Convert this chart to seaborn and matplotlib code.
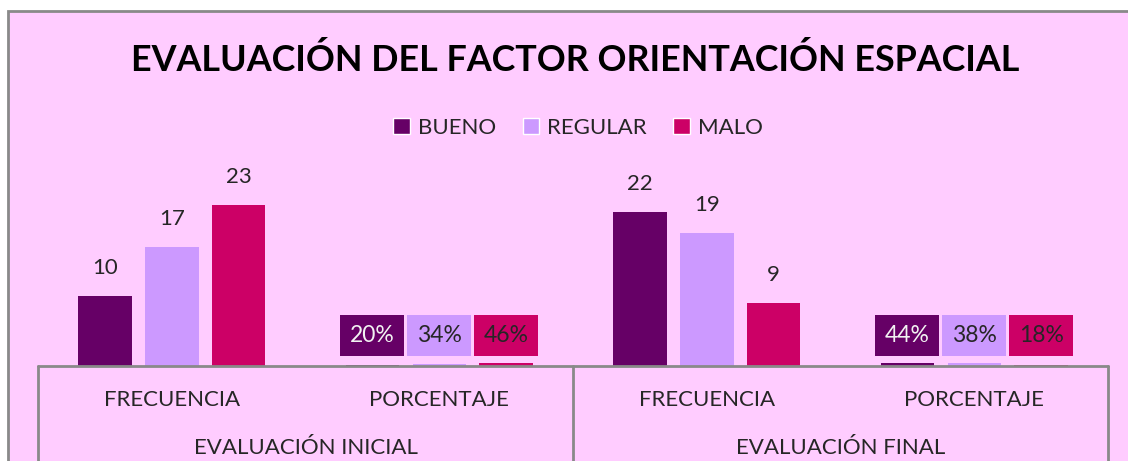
import pandas as pd
import seaborn as sns
import matplotlib.pyplot as plt
from matplotlib.patches import Rectangle
from matplotlib.lines import Line2D

# data
keys = ['INI_FREC', 'INI_PORC', 'FIN_FREC', 'FIN_PORC']
tick_labels = ['FRECUENCIA', 'PORCENTAJE', 'FRECUENCIA', 'PORCENTAJE']
group_labels = ['EVALUACIÓN INICIAL', 'EVALUACIÓN FINAL']
series = ['BUENO', 'REGULAR', 'MALO']
bueno = [10, 0.20, 22, 0.44]
regular = [17, 0.34, 19, 0.38]
malo = [23, 0.46, 9, 0.18]
colors = ['#660066', '#CC99FF', '#CC0066']

df = pd.DataFrame({'cat': keys * 3,
                   'serie': [s for s in series for _ in keys],
                   'valor': bueno + regular + malo})

sns.set_style('white')
plt.rcParams['font.family'] = ['Lato', 'DejaVu Sans']
text_col = '#262626'
pink = '#FFCCFF'

fig = plt.figure(figsize=(11.28, 4.61), dpi=100, facecolor='white')
# chart area with grey border (right and bottom edges lie outside the picture)
fig.patches.append(Rectangle((8 / 1128, -0.1), 1.2, (461 - 11) / 461 + 0.1, transform=fig.transFigure,
                             facecolor=pink, edgecolor='#898989', linewidth=2, zorder=-5))

ax = fig.add_axes([38 / 1128, 95 / 461, 1070 / 1128, 175 / 461])
ax.set_facecolor('none')
ax.set_zorder(2)
sns.barplot(data=df, x='cat', y='valor', hue='serie', order=keys, hue_order=series,
            palette=colors, width=0.75, gap=0.2, linewidth=0, saturation=1, ax=ax)
ax.set_ylim(0, 25)
ax.set_xlim(-0.5, 3.5)
ax.set_yticks([])
ax.set_xticks([])
ax.set_xlabel('')
ax.set_ylabel('')
for s in ax.spines.values():
    s.set_visible(False)
ax.legend_.remove()

# value labels
for i, (cont, col) in enumerate(zip(ax.containers, colors)):
    for j, bar in enumerate(cont):
        v = bar.get_height()
        xc = bar.get_x() + bar.get_width() / 2
        if j % 2 == 0:
            ax.annotate(f'{v:g}', (xc, v), xytext=(0, 20), textcoords='offset points',
                        ha='center', va='center', fontsize=16, color=text_col)
        else:
            tc = '#F2F2F2' if i == 0 else text_col
            ax.annotate(f'{v * 100:.0f}%', (xc, 0), xytext=(0, 22), textcoords='offset points',
                        ha='center', va='center', fontsize=16.5, color=tc,
                        bbox=dict(boxstyle='square,pad=0.42', facecolor=col, edgecolor='none'))

# category axis table
grey = '#898989'
line_y = 95 / 461
fig.lines.append(Line2D([38 / 1128, 1108 / 1128], [line_y, line_y], color=grey, lw=2,
                        transform=fig.transFigure))
for xp in [38, 573, 1108]:
    fig.lines.append(Line2D([xp / 1128, xp / 1128], [0, line_y], color=grey, lw=2,
                            transform=fig.transFigure))
for i, lab in enumerate(tick_labels):
    fig.text((38 + 267.5 * (i + 0.5)) / 1128, (461 - 400) / 461, lab, ha='center', va='center',
             fontsize=16, color=text_col)
for i, lab in enumerate(group_labels):
    fig.text((38 + 535 * (i + 0.5)) / 1128, (461 - 448) / 461, lab, ha='center', va='center',
             fontsize=16, color=text_col)

fig.text(575 / 1128, (461 - 60) / 461, 'EVALUACIÓN DEL FACTOR ORIENTACIÓN ESPACIAL',
         ha='center', va='center', fontsize=25.8, fontweight='bold', color='black')

handles = [Rectangle((0, 0), 1, 1, facecolor=c) for c in colors]
fig.legend(handles, series, loc='center', bbox_to_anchor=(578 / 1128, (461 - 128) / 461), ncol=3,
           frameon=False, fontsize=16, handlelength=0.75, handleheight=0.75, handletextpad=0.35,
           columnspacing=1.2, labelcolor=text_col)

fig.savefig('out.png', dpi=100, facecolor='white')
